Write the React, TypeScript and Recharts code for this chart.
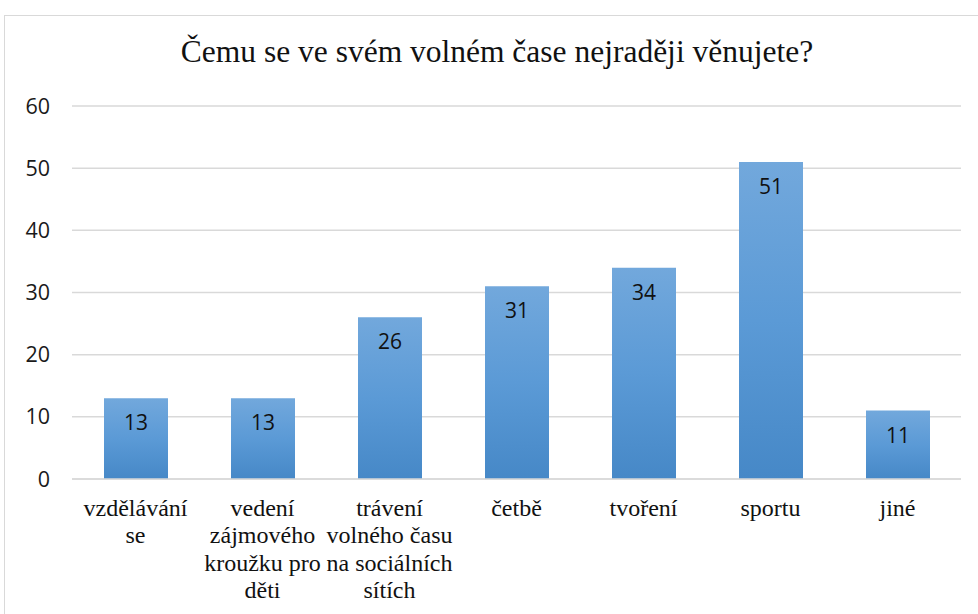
import React from 'react';
import { BarChart, Bar, XAxis, YAxis, CartesianGrid, LabelList } from 'recharts';

const categories = [
  'vzdělávání se',
  'vedení zájmového kroužku pro děti',
  'trávení volného času na sociálních sítích',
  'četbě',
  'tvoření',
  'sportu',
  'jiné',
];

const tickLines: string[][] = [
  ['vzdělávání', 'se'],
  ['vedení', 'zájmového', 'kroužku pro', 'děti'],
  ['trávení', 'volného času', 'na sociálních', 'sítích'],
  ['četbě'],
  ['tvoření'],
  ['sportu'],
  ['jiné'],
];

const counts = [13, 13, 26, 31, 34, 51, 11];
const yTicks = [0, 10, 20, 30, 40, 50, 60];

const data = categories.map((name, i) => ({ name, value: counts[i] }));

const serif = 'Liberation Serif, Times New Roman, serif';
const sans = 'Open Sans, Liberation Sans, sans-serif';

const renderCategoryTick = (props: any) => {
  const { x, y, index } = props;
  const lines = tickLines[index] || [];
  return (
    <g>
      {lines.map((l, i) => (
        <text
          key={i}
          x={x}
          y={y + 29 + i * 27.3}
          textAnchor="middle"
          fontFamily={serif}
          fontSize={24}
          fill="#111"
        >
          {l}
        </text>
      ))}
    </g>
  );
};

const App: React.FC = () => {
  return (
    <div style={{ position: 'absolute', left: 0, top: 0, width: 978, height: 614, overflow: 'hidden', background: '#fff' }}>
      <div
        style={{
          position: 'absolute',
          left: 4,
          top: 15,
          width: 990,
          height: 620,
          border: '1.5px solid #d9d9d9',
        }}
      />
      <div
        style={{
          position: 'absolute',
          left: 0,
          top: 34,
          width: 994,
          textAlign: 'center',
          fontFamily: serif,
          fontSize: 31.5,
          lineHeight: '36px',
          color: '#111',
        }}
      >
        Čemu se ve svém volném čase nejraději věnujete?
      </div>
      <div style={{ position: 'absolute', left: 0, top: 0 }}>
        <BarChart
          width={978}
          height={614}
          data={data}
          margin={{ top: 106, right: 17, bottom: 0, left: 0 }}
        >
          <defs>
            <linearGradient id="barGrad" x1="0" y1="0" x2="0" y2="1">
              <stop offset="0%" stopColor="#72a8dc" />
              <stop offset="50%" stopColor="#5b9ad6" />
              <stop offset="100%" stopColor="#4688c7" />
            </linearGradient>
          </defs>
          <CartesianGrid vertical={false} stroke="#d9d9d9" strokeWidth={1.5} />
          <XAxis
            dataKey="name"
            height={135}
            interval={0}
            axisLine={{ stroke: '#d9d9d9', strokeWidth: 1.5 }}
            tickLine={false}
            tick={renderCategoryTick}
          />
          <YAxis
            width={72}
            domain={[0, 60]}
            ticks={yTicks}
            axisLine={false}
            tickLine={false}
            tickSize={0}
            tickMargin={22}
            tick={{ fontFamily: sans, fontSize: 21.5, fill: '#1a1a1a' }}
          />
          <Bar dataKey="value" fill="url(#barGrad)" barSize={64} isAnimationActive={false}>
            <LabelList
              dataKey="value"
              position="insideTop"
              offset={17}
              style={{ fontFamily: sans, fontSize: 21, fill: '#111' }}
            />
          </Bar>
        </BarChart>
      </div>
    </div>
  );
};

export default App;
